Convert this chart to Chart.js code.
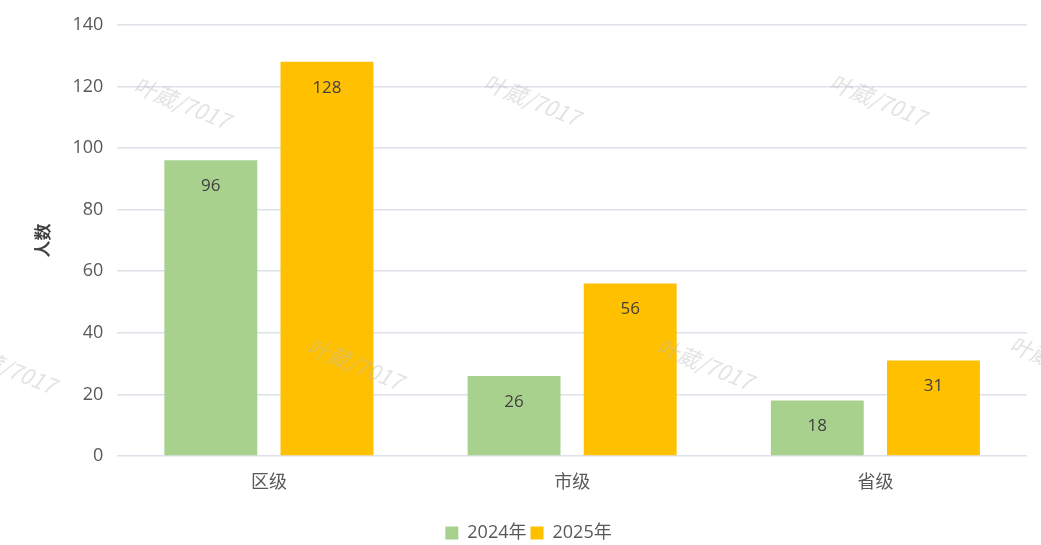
<!DOCTYPE html>
<html>
<head>
<meta charset="utf-8">
<script src="https://cdn.jsdelivr.net/npm/chart.js@4/dist/chart.umd.min.js"></script>
<style>
    body { margin: 0; background: #fff; }
    #wrap { width: 1041px; height: 545px; }
</style>
</head>
<body>
<div id="wrap"><canvas id="chartNiveles" width="1041" height="545"></canvas></div>
<script>
const categorias = ["区级", "市级", "省级"];
const series = ["2024年", "2025年"];
const valores2024 = [96, 26, 18];
const valores2025 = [128, 56, 31];
const colores = ["#A9D18E", "#FFC000"];
const marcaAgua = "叶葳/7017";

const fuente = "'Open Sans', 'Noto Sans CJK SC', sans-serif";

// etiquetas de valor dentro de la barra, cerca del borde superior
const pluginEtiquetas = {
    id: "etiquetas",
    afterDatasetsDraw(chart) {
        const ctx = chart.ctx;
        ctx.save();
        ctx.font = "17px " + fuente;
        ctx.fillStyle = "#404040";
        ctx.textAlign = "center";
        ctx.textBaseline = "middle";
        chart.data.datasets.forEach((ds, i) => {
            chart.getDatasetMeta(i).data.forEach((bar, j) => {
                ctx.fillText(ds.data[j], bar.x, bar.y + 26);
            });
        });
        ctx.restore();
    }
};

// marca de agua
const pluginMarca = {
    id: "marca",
    afterDatasetsDraw(chart) {
        const ctx = chart.ctx;
        const puntos = [[182, 103], [532, 100], [878, 100], [8, 368], [355, 364], [705, 364], [1058, 362]];
        ctx.save();
        ctx.font = "italic 22px 'Noto Sans CJK SC', sans-serif";
        ctx.fillStyle = "rgba(185,185,185,0.4)";
        ctx.textAlign = "center";
        ctx.textBaseline = "middle";
        puntos.forEach(p => {
            ctx.save();
            ctx.translate(p[0], p[1]);
            ctx.rotate(22 * Math.PI / 180);
            ctx.fillText(marcaAgua, 0, 0);
            ctx.restore();
        });
        ctx.restore();
    }
};

const ctx = document.getElementById("chartNiveles").getContext("2d");
new Chart(ctx, {
    type: "bar",
    data: {
        labels: categorias,
        datasets: [
            { label: series[0], data: valores2024, backgroundColor: colores[0] },
            { label: series[1], data: valores2025, backgroundColor: colores[1] }
        ]
    },
    options: {
        responsive: false,
        animation: false,
        layout: { padding: { top: 12, right: 14, left: 30, bottom: -7 } },
        datasets: {
            bar: { categoryPercentage: 0.766, barPercentage: 0.8 }
        },
        scales: {
            x: {
                grid: { display: false },
                border: { display: false },
                ticks: { color: "#595959", font: { size: 18, family: fuente }, padding: 8 },
                afterFit(scale) { scale.height = 64; }
            },
            y: {
                min: 0,
                max: 140,
                ticks: { stepSize: 20, color: "#595959", font: { size: 18, family: fuente }, padding: 14 },
                grid: { color: "#DDE2EA", lineWidth: 1.5, drawTicks: false },
                border: { display: false },
                title: {
                    display: true,
                    text: "人数",
                    color: "#404040",
                    font: { size: 17, weight: "bold", family: fuente },
                    padding: { bottom: 4 }
                }
            }
        },
        plugins: {
            legend: {
                position: "bottom",
                labels: {
                    boxWidth: 13,
                    boxHeight: 13,
                    color: "#595959",
                    font: { size: 18, family: fuente },
                    padding: 4
                }
            },
            tooltip: { enabled: false }
        }
    },
    plugins: [pluginEtiquetas, pluginMarca]
});
</script>
</body>
</html>
